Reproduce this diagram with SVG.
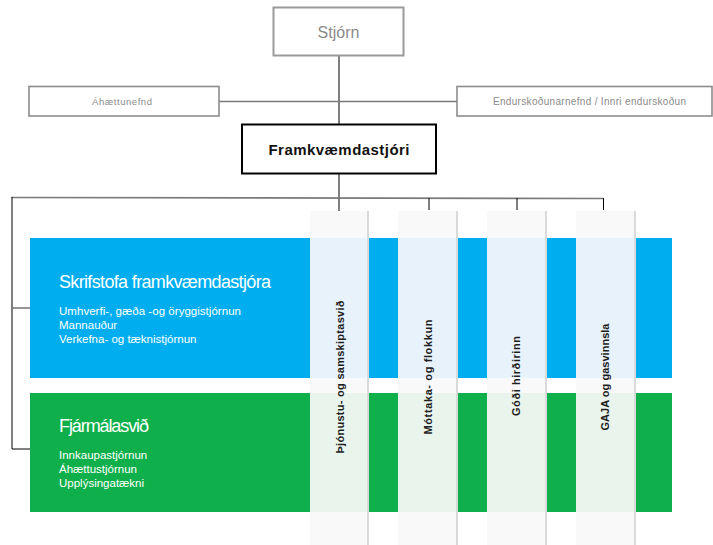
<svg xmlns="http://www.w3.org/2000/svg" width="713" height="545" viewBox="0 0 713 545">
<style>
.gbox{fill:#fff;stroke:#8c8c8c;stroke-width:1.6}
.gtxt{font-family:"Liberation Sans",Arial,sans-serif;fill:#8a8a8a;text-anchor:middle}
.wt{font-family:"Liberation Sans",Arial,sans-serif;fill:#fff}
.col{fill:#f9f9f9}
.colb{fill:#e8f2fa}
.colg{fill:#e9f4ec}
.sh{fill:#dadada}
.vt{font-family:"Liberation Sans",Arial,sans-serif;font-weight:bold;font-size:11px;fill:#1e1e1e;text-anchor:middle}
.ln{stroke:#000;stroke-width:1;fill:none}
.lg{stroke:#7a7a7a;stroke-width:1.6;fill:none}
</style>
<rect width="713" height="545" fill="#fff"/>
<g id="connectors">
<line class="ln" x1="339" y1="56" x2="339" y2="124"/>
<line class="lg" x1="219" y1="101.5" x2="457" y2="101.5"/>
<line class="ln" x1="339" y1="174" x2="339" y2="211"/>
<line class="lg" x1="11.5" y1="197.5" x2="603.5" y2="198.5"/>
<line class="ln" x1="429" y1="198" x2="429" y2="210"/>
<line class="ln" x1="517" y1="198" x2="517" y2="210"/>
<line class="ln" x1="603.5" y1="198" x2="603.5" y2="210"/>
<line class="ln" x1="12" y1="197" x2="12" y2="449"/>
<line class="lg" x1="12" y1="308" x2="30" y2="308"/>
<line class="ln" x1="12" y1="449" x2="30" y2="449"/>
</g>
<g id="stjorn">
<rect x="273.5" y="7.5" width="130" height="48" fill="#fff" stroke="#9a9a9a" stroke-width="2"/>
<text class="gtxt" x="338.5" y="38" font-size="16" fill="#9a9a9a">Stjórn</text>
</g>
<g id="ahaettunefnd">
<rect class="gbox" x="29" y="86.5" width="190" height="29.5"/>
<text class="gtxt" x="122" y="104.5" font-size="9.5" textLength="60">Áhættunefnd</text>
</g>
<g id="endurskodun">
<rect class="gbox" x="457" y="86.5" width="255" height="29.5"/>
<text class="gtxt" x="589.5" y="104.5" font-size="10" textLength="193">Endurskoðunarnefnd / Innri endurskoðun</text>
</g>
<g id="framkvaemdastjori">
<rect x="242" y="124.5" width="194" height="49" fill="#fff" stroke="#000" stroke-width="2"/>
<text x="339" y="155" font-family="Liberation Sans,Arial,sans-serif" font-weight="bold" font-size="15" fill="#111" text-anchor="middle" textLength="141">Framkvæmdastjóri</text>
</g>
<g id="skrifstofa">
<rect x="30" y="238" width="642" height="140" fill="#00aeef"/>
<text class="wt" x="59" y="288" font-size="18" textLength="212">Skrifstofa framkvæmdastjóra</text>
<text class="wt" x="59" y="315" font-size="11.5" textLength="182">Umhverfi-, gæða -og öryggistjórnun</text>
<text class="wt" x="59" y="329" font-size="11.5">Mannauður</text>
<text class="wt" x="59" y="343" font-size="11.5">Verkefna- og tæknistjórnun</text>
</g>
<g id="fjarmalasvid">
<rect x="30" y="393" width="642" height="119" fill="#0fb04b"/>
<text class="wt" x="59" y="432" font-size="18" textLength="90">Fjármálasvið</text>
<text class="wt" x="59" y="459" font-size="11.5">Innkaupastjórnun</text>
<text class="wt" x="59" y="473" font-size="11.5">Áhættustjórnun</text>
<text class="wt" x="59" y="487" font-size="11.5">Upplýsingatækni</text>
</g>
<g id="col-thjonustu">
<rect class="sh" x="366" y="211" width="3" height="334"/>
<rect class="col" x="310" y="211" width="57" height="334"/>
<rect class="colb" x="310" y="238" width="57" height="140"/>
<rect class="colg" x="310" y="393" width="57" height="119"/>
<text class="vt" transform="translate(340,377) rotate(-90)" x="0" y="4" textLength="153">Þjónustu- og samskiptasvið</text>
</g>
<g id="col-mottaka">
<rect class="sh" x="455" y="211" width="3" height="334"/>
<rect class="col" x="398" y="211" width="58" height="334"/>
<rect class="colb" x="398" y="238" width="58" height="140"/>
<rect class="colg" x="398" y="393" width="58" height="119"/>
<text class="vt" transform="translate(428,377) rotate(-90)" x="0" y="4" textLength="115">Móttaka- og flokkun</text>
</g>
<g id="col-godi">
<rect class="sh" x="544" y="211" width="3" height="334"/>
<rect class="col" x="487" y="211" width="58" height="334"/>
<rect class="colb" x="487" y="238" width="58" height="140"/>
<rect class="colg" x="487" y="393" width="58" height="119"/>
<text class="vt" transform="translate(516,376) rotate(-90)" x="0" y="4" textLength="80">Góði hirðirinn</text>
</g>
<g id="col-gaja">
<rect class="sh" x="633" y="211" width="3" height="334"/>
<rect class="col" x="576" y="211" width="58" height="334"/>
<rect class="colb" x="576" y="238" width="58" height="140"/>
<rect class="colg" x="576" y="393" width="58" height="119"/>
<text class="vt" transform="translate(605,377) rotate(-90)" x="0" y="4" textLength="107">GAJA og gasvinnsla</text>
</g>
</svg>
